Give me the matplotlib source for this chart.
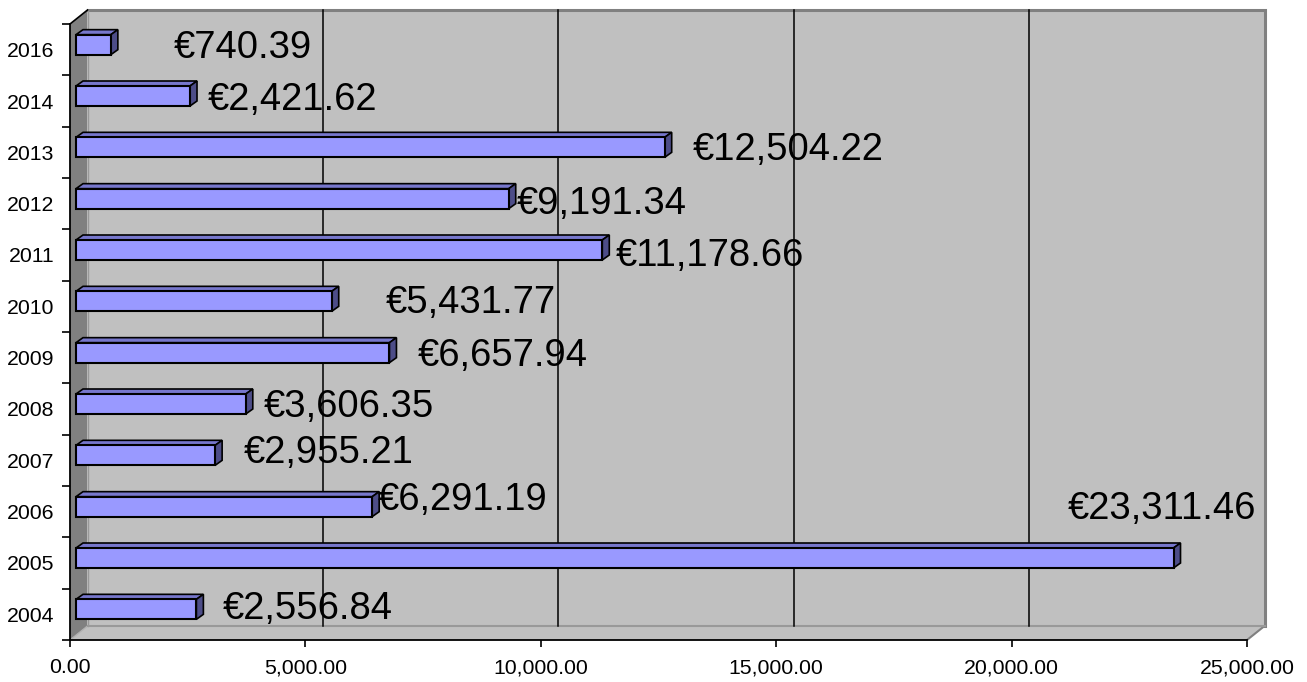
import matplotlib
matplotlib.use("Agg")
import matplotlib.pyplot as plt
from matplotlib.patches import Polygon, Rectangle
from matplotlib.ticker import FuncFormatter, FixedLocator

years = ["2004", "2005", "2006", "2007", "2008", "2009", "2010",
         "2011", "2012", "2013", "2014", "2016"]
amounts = [2556.84, 23311.46, 6291.19, 2955.21, 3606.35, 6657.94, 5431.77,
           11178.66, 9191.34, 12504.22, 2421.62, 740.39]
label_texts = ["€2,556.84", "€23,311.46", "€6,291.19", "€2,955.21", "€3,606.35",
               "€6,657.94", "€5,431.77", "€11,178.66", "€9,191.34", "€12,504.22",
               "€2,421.62", "€740.39"]
x_ticks = [0, 5000, 10000, 15000, 20000, 25000]
# label placement (pixels): horizontal offset from bar end, vertical offset of label centre (down +)
label_dx = [26, -106, 6, 29, 18, 28, 54, 13, 8, 28, 18, 63]
label_dy = [-3, -52, -10, -5, 0, 0, -1, 3, 2, 0, 1, 0]

FONT = ["Liberation Sans", "DejaVu Sans"]
plt.rcParams["font.family"] = FONT

W, H, DPI = 1307, 682, 100
fig = plt.figure(figsize=(W / DPI, H / DPI), dpi=DPI)
fig.patch.set_facecolor("white")

# front plane of the plot area in pixels
L, R, T, B = 70, 1247, 24, 640
ax = fig.add_axes([L / W, (H - B) / H, (R - L) / W, (B - T) / H])
xmax = 25000
n = len(years)
ax.set_xlim(0, xmax)
ax.set_ylim(-0.5, n - 0.5)
ax.patch.set_visible(False)

sx = xmax / (R - L)      # data per pixel (x)
sy = n / (B - T)         # data per pixel (y)

# depth of the 3D box
DX, DY = 17.5 * sx, 14 * sy
y0, y1 = -0.5, n - 0.5

wall_c = "#C0C0C0"
side_c = "#808080"
edge_c = "#808080"

# left side wall
ax.add_patch(Polygon([(0, y0), (DX, y0 + DY), (DX, y1 + DY), (0, y1)],
                     closed=True, facecolor=side_c, edgecolor="none", zorder=1, clip_on=False))
ax.plot([0, DX], [y1, y1 + DY], color="black", lw=1.2, zorder=6, clip_on=False)
# floor
ax.add_patch(Polygon([(0, y0), (xmax, y0), (xmax + DX, y0 + DY), (DX, y0 + DY)],
                     closed=True, facecolor=wall_c, edgecolor="none", zorder=1, clip_on=False))
ax.plot([xmax, xmax + DX], [y0, y0 + DY], color=edge_c, lw=1.5, zorder=2, clip_on=False)
ax.plot([0, DX], [y0, y0 + DY], color="#B0B0B0", lw=1.0, zorder=2, clip_on=False)
# back wall
ax.add_patch(Rectangle((DX, y0 + DY), xmax, n, facecolor=wall_c, edgecolor="none",
                       zorder=1, clip_on=False))
ax.plot([DX, xmax + DX, xmax + DX], [y1 + DY, y1 + DY, y0 + DY], color=edge_c, lw=2.2,
        zorder=2, clip_on=False, solid_joinstyle="miter")
ax.plot([DX, xmax + DX], [y0 + DY, y0 + DY], color="#999999", lw=1.5, zorder=2, clip_on=False)
ax.plot([DX, DX], [y0 + DY, y1 + DY], color="#999999", lw=1.0, zorder=2, clip_on=False)
# gridlines on back wall
for xv in x_ticks[1:-1]:
    ax.plot([xv + DX, xv + DX], [y0 + DY, y1 + DY], color="black", lw=1.1, zorder=2,
            clip_on=False)

# bars
bdx, bdy = 6 * sx, 5 * sy          # position of bar front face inside the box
ddx, ddy = 7 * sx, 5 * sy          # bar depth
bh = 20 * sy
front_c, top_c, sidebar_c = "#9999FF", "#7777CC", "#4D4D88"
yc = [i + bdy for i in range(n)]
ax.barh(yc, amounts, left=bdx, height=bh, color=front_c, edgecolor="black",
        linewidth=1.5, zorder=4)
for i, v in enumerate(amounts):
    xa, xb = bdx, bdx + v
    ya, yb = yc[i] - bh / 2, yc[i] + bh / 2
    ax.add_patch(Polygon([(xa, yb), (xb, yb), (xb + ddx, yb + ddy), (xa + ddx, yb + ddy)],
                         closed=True, facecolor=top_c, edgecolor="black", lw=1.2,
                         zorder=3.9, clip_on=False))
    ax.add_patch(Polygon([(xb, ya), (xb + ddx, ya + ddy), (xb + ddx, yb + ddy), (xb, yb)],
                         closed=True, facecolor=sidebar_c, edgecolor="black", lw=1.2,
                         zorder=3.9, clip_on=False))
    ax.annotate(label_texts[i], xy=(xb, yc[i]),
                xytext=(label_dx[i], -label_dy[i] - 13),
                textcoords="offset pixels", ha="left", va="baseline",
                fontsize=27.5, color="black", zorder=7, family=FONT,
                annotation_clip=False)

# axes styling
for s in ["top", "right"]:
    ax.spines[s].set_visible(False)
for s in ["left", "bottom"]:
    ax.spines[s].set_color("black")
    ax.spines[s].set_linewidth(1.3)
    ax.spines[s].set_zorder(6)

ax.xaxis.set_major_locator(FixedLocator(x_ticks))
ax.xaxis.set_major_formatter(FuncFormatter(lambda v, p: f"{v:,.2f}"))
ax.tick_params(axis="x", direction="out", length=5, width=1.2, pad=8,
               labelsize=15.3, color="black")

ax.set_yticks(range(n))
ax.set_yticklabels(years)
ax.set_yticks([i - 0.5 for i in range(n + 1)], minor=True)
ax.tick_params(axis="y", which="major", length=0, pad=11, labelsize=15.3)
ax.tick_params(axis="y", which="minor", direction="out", length=6, width=1.2, color="black")

fig.savefig("out.png", dpi=DPI, facecolor="white")
